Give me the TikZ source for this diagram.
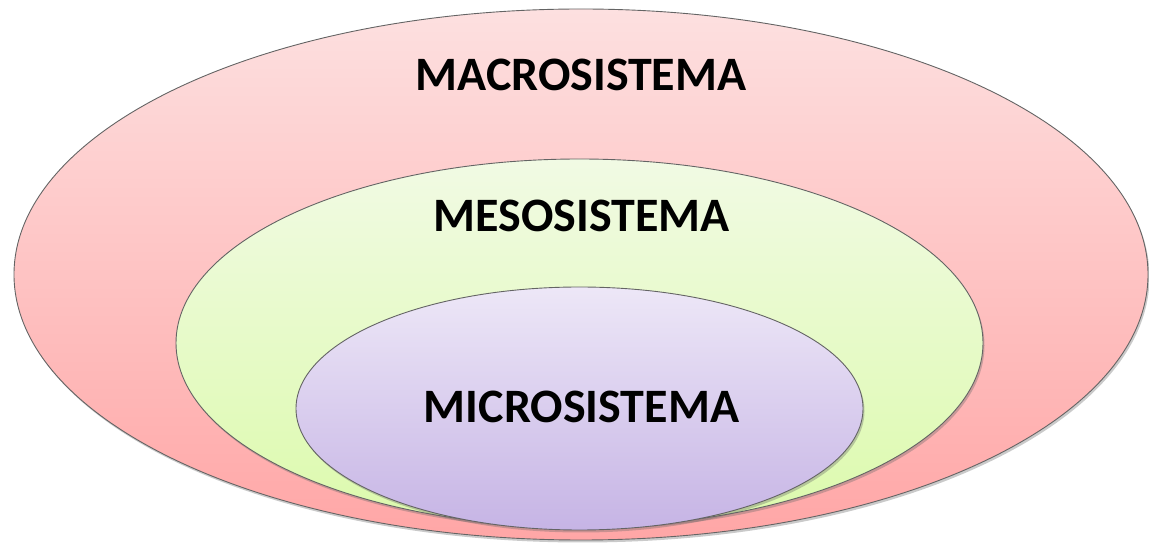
\documentclass[tikz,border=0pt]{standalone}
\usepackage{fontspec}
\setmainfont{Carlito}
\usetikzlibrary{shapes.geometric,shadows}
\definecolor{edge}{RGB}{100,100,100}
\definecolor{macroTop}{RGB}{253,224,224}
\definecolor{macroBot}{RGB}{255,166,166}
\definecolor{mesoTop}{RGB}{241,250,228}
\definecolor{mesoBot}{RGB}{220,250,172}
\definecolor{microTop}{RGB}{237,231,247}
\definecolor{microBot}{RGB}{198,180,229}
\tikzset{
  ring/.style={ellipse, draw=edge, line width=0.9pt, inner sep=0pt,
    drop shadow={shadow xshift=1.5pt, shadow yshift=-2.5pt, opacity=0.35, fill=black!60}},
  lbl/.style={font=\bfseries\fontsize{48}{50}\selectfont, anchor=base, inner sep=0pt, text=black}
}
\begin{document}
\begin{tikzpicture}[x=1pt,y=1pt]
\useasboundingbox (0,0) rectangle (1149,546);
\node[ring, minimum width=1134pt, minimum height=531pt, top color=macroTop, bottom color=macroBot] (macro) at (581,271.5) {};
\node[ring, minimum width=807pt, minimum height=368pt, top color=mesoTop, bottom color=mesoBot] (meso) at (579.5,203) {};
\node[ring, minimum width=567pt, minimum height=243pt, top color=microTop, bottom color=microBot] (micro) at (579.5,137.5) {};
\node[lbl] (tmacro) at (581,455) {MACROSISTEMA};
\node[lbl] (tmeso) at (581.5,314) {MESOSISTEMA};
\node[lbl] (tmicro) at (581.5,123) {MICROSISTEMA};
\end{tikzpicture}
\end{document}
